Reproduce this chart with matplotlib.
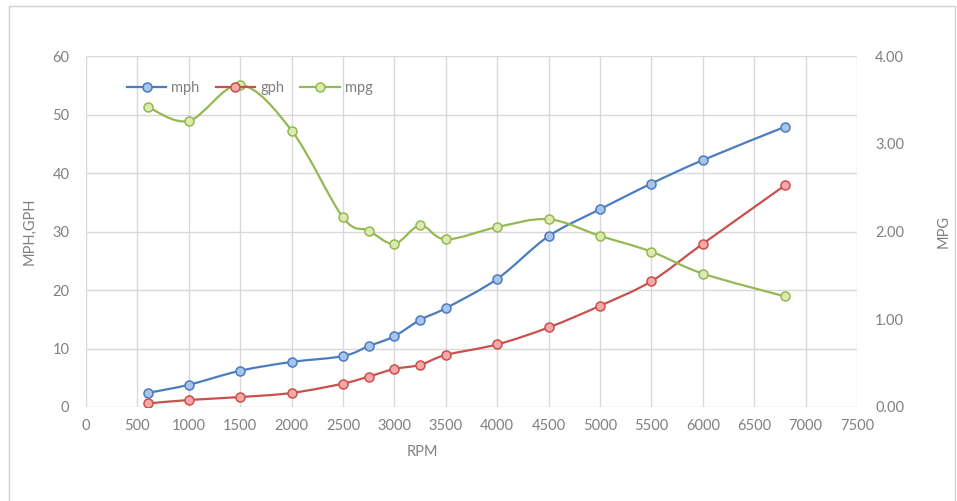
import numpy as np
import matplotlib
matplotlib.use('agg')
import matplotlib.pyplot as plt
from matplotlib.path import Path
from matplotlib.patches import PathPatch, Rectangle
from matplotlib.lines import Line2D

plt.rcParams['font.family'] = ['Lato', 'DejaVu Sans']

rpm = [600, 1000, 1500, 2000, 2500, 2750, 3000, 3250, 3500, 4000, 4500, 5000, 5500, 6000, 6800]
mph = [2.4, 3.8, 6.2, 7.7, 8.7, 10.4, 12.1, 14.9, 16.9, 21.9, 29.2, 33.8, 38.2, 42.2, 47.9]
gph = [0.6, 1.2, 1.7, 2.4, 4.0, 5.2, 6.5, 7.2, 8.9, 10.7, 13.6, 17.3, 21.5, 27.9, 37.9]
mpg = [3.42, 3.26, 3.67, 3.15, 2.16, 2.01, 1.86, 2.07, 1.91, 2.05, 2.14, 1.95, 1.77, 1.52, 1.26]

txt = '#808080'
grid_c = '#D9D9D9'


def smooth(ax, x, y, color, lw=1.6, zorder=2):
    # excel-style smoothed line as bezier segments
    p = np.column_stack([x, y]).astype(float)
    verts = [p[0]]
    codes = [Path.MOVETO]
    n = len(p)
    for i in range(n - 1):
        p0 = p[i - 1] if i > 0 else p[i]
        p1 = p[i]
        p2 = p[i + 1]
        p3 = p[i + 2] if i + 2 < n else p[i + 1]
        c1 = p1 + (p2 - p0) / 6.0
        c2 = p2 - (p3 - p1) / 6.0
        verts += [c1, c2, p2]
        codes += [Path.CURVE4] * 3
    ax.add_patch(PathPatch(Path(verts, codes), facecolor='none', edgecolor=color,
                           lw=lw, zorder=zorder, capstyle='round', joinstyle='round'))


fig = plt.figure(figsize=(9.57, 5.01), dpi=100)
fig.patches.append(Rectangle((9 / 957, -0.01), 946 / 957, 1 - 6 / 501 + 0.01,
                             transform=fig.transFigure, fill=False,
                             edgecolor='#D0D0D0', lw=1))
ax = fig.add_axes([86 / 957, 1 - 407 / 501, (857 - 86) / 957, (407 - 56) / 501])
ax2 = ax.twinx()

series = [
    (ax, mph, '#4A7CC0', '#A9C4EA', 'mph'),
    (ax, gph, '#C9504C', '#F4A9A8', 'gph'),
    (ax2, mpg, '#95B952', '#DCE9B0', 'mpg'),
]
handles = []
for a, vals, lc, fc, name in series:
    smooth(a, rpm, vals, lc)
    a.plot(rpm, vals, ls='none', marker='o', ms=6.5, mfc=fc, mec=lc, mew=1.1, zorder=3)
    handles.append(Line2D([], [], color=lc, lw=1.6, marker='o', ms=6.5, mfc=fc, mec=lc,
                          mew=1.1, label=name))

ax.set_xlim(0, 7500)
ax.set_ylim(0, 60)
ax2.set_ylim(0, 4)
ax.set_xticks(np.arange(0, 7501, 500))
ax.set_yticks(np.arange(0, 61, 10))
ax2.set_yticks(np.arange(0, 4.01, 1))
ax2.set_yticklabels(['%.2f' % v for v in np.arange(0, 4.01, 1)])

ax.grid(True, color=grid_c, lw=1)
ax.set_axisbelow(True)
for a in (ax, ax2):
    for s in a.spines.values():
        s.set_visible(False)
ax.tick_params(axis='both', length=0, labelsize=10.5, labelcolor=txt)
ax.tick_params(axis='y', pad=12)
ax.tick_params(axis='x', pad=9)
ax2.tick_params(axis='y', length=0, labelsize=10.5, labelcolor=txt, pad=13)

fig.text(30 / 957, 1 - 231 / 501, 'MPH,GPH', rotation=90, ha='center', va='center',
         fontsize=10.5, color=txt)
fig.text(944 / 957, 1 - 231 / 501, 'MPG', rotation=90, ha='center', va='center',
         fontsize=10.5, color=txt)
fig.text(422 / 957, 1 - 452 / 501, 'RPM', ha='center', va='center', fontsize=10.5, color=txt)

leg = ax2.legend(handles=handles, ncol=3, loc='center left', frameon=False,
                 bbox_to_anchor=(127 / 957, 1 - 88 / 501), bbox_transform=fig.transFigure,
                 fontsize=10.5, handlelength=2.7, handletextpad=0.35, columnspacing=1.1,
                 borderpad=0, borderaxespad=0, labelcolor=txt)
leg.set_zorder(10)

fig.savefig('out.png', dpi=100)
